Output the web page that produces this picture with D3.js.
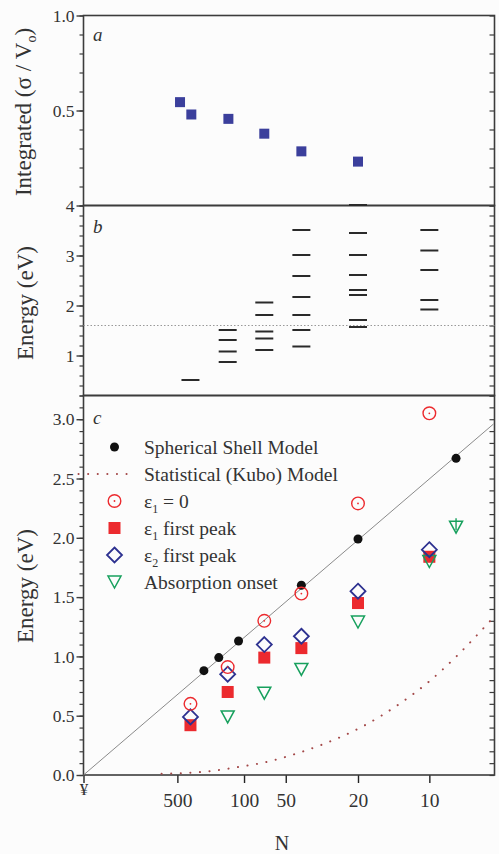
<!DOCTYPE html>
<html>
<head>
<meta charset="utf-8">
<script src="https://cdn.jsdelivr.net/npm/d3@7.9.0/dist/d3.min.js"></script>
<style>
  html, body { margin: 0; padding: 0; background: #fcfcfc; }
  svg, svg text { font-family: "Liberation Serif", "Times New Roman", "DejaVu Serif", serif; }
</style>
</head>
<body>
<div id="chart"></div>
<script>
// --- Data ---
// x axis is N^(-1/3); ticks are labelled by N
const tickN = [Infinity, 500, 100, 50, 20, 10];
const tickLabels = ["¥", "500", "100", "50", "20", "10"];

// panel a: integrated cross-section
const integN = [460, 330, 136, 70, 40, 20];
const integVal = [0.544, 0.479, 0.456, 0.378, 0.285, 0.231];

// panel b: transition energies per cluster size
const levelN = [338, 138, 70, 40, 20, 10];
const levelE = [
  [0.51],
  [1.51, 1.31, 1.08, 0.87],
  [2.06, 1.81, 1.48, 1.34, 1.11],
  [3.51, 3.01, 2.59, 2.17, 1.81, 1.51, 1.18],
  [4.01, 3.45, 3.01, 2.61, 2.31, 2.21, 1.71, 1.57],
  [3.51, 3.10, 2.71, 2.11, 1.92]
];
const thresholdE = 1.6;

// panel c
const shellN = [237, 167, 111, 40, 20, 8];
const shellE = [0.88, 0.99, 1.13, 1.60, 1.99, 2.67];
const shellLineN = [Infinity, 6];
const shellLineE = [0, 2.96];
const kuboN = [870, 220, 107, 62, 48, 30, 19, 12.9, 10, 7.9, 6.4, 6.0];
const kuboE = [0.01, 0.03, 0.07, 0.12, 0.16, 0.26, 0.41, 0.61, 0.79, 1.01, 1.25, 1.33];
const peakN = [338, 138, 70, 40, 20, 10];
const eps0E = [0.60, 0.91, 1.30, 1.53, 2.29, 3.05];
const eps1E = [0.42, 0.70, 0.99, 1.07, 1.45, 1.84];
const eps2E = [0.49, 0.85, 1.10, 1.17, 1.55, 1.90];
const absN = [138, 70, 40, 20, 10, 8];
const absE = [0.49, 0.69, 0.89, 1.29, 1.80, 2.09];

// --- Layout ---
const W = 499, H = 854;
const L = 83.5, R = 494.5;
const RED = "#ec2a2e", BLUE = "#2d3190", GREEN = "#17a05d", NAVY = "#3b3f9c";
const FRAME = "#3c3c3c";
const KUBO = "#a34848";
const SERIF = "'Liberation Serif', 'Times New Roman', 'DejaVu Serif', serif";

const t = n => Math.pow(n, -1 / 3);
const x = d3.scaleLinear().domain([0, 0.5516]).range([L, R]);
const xN = n => x(t(n));

const yA = d3.scaleLinear().domain([0, 1]).range([205.5, 15.5]);
const yB = d3.scaleLinear().domain([0.2, 4]).range([395.5, 205.5]);
const yC = d3.scaleLinear().domain([0, 3.2]).range([775, 395.5]);

const svg = d3.select("#chart").append("svg").attr("width", W).attr("height", H)
  .attr("font-family", SERIF);

// vertical side axes (left outward with labels, right inward)
function sideAxes(y, major, minor, fmt) {
  const [lo, hi] = y.domain();
  const minorTicks = d3.range(Math.ceil(lo / minor - 1e-9) * minor, hi + 1e-9, minor)
    .filter(v => v >= lo - 1e-9);
  const g = svg.append("g");
  g.append("g").attr("transform", `translate(${L},0)`)
    .call(d3.axisLeft(y).tickValues(minorTicks).tickSize(4).tickFormat(""))
    .call(s => s.select(".domain").remove())
    .call(s => s.selectAll("line").attr("stroke", FRAME).attr("stroke-width", 1.2));
  g.append("g").attr("transform", `translate(${L},0)`)
    .call(d3.axisLeft(y).tickValues(major).tickSize(7).tickPadding(2).tickFormat(fmt))
    .attr("font-family", SERIF)
    .call(s => s.select(".domain").remove())
    .call(s => s.selectAll("line").attr("stroke", FRAME).attr("stroke-width", 1.4))
    .call(s => s.selectAll("text").attr("font-size", 17.5).attr("fill", "#333"));
  g.append("g").attr("transform", `translate(${R},0)`)
    .call(d3.axisLeft(y).tickValues(minorTicks).tickSize(5).tickFormat(""))
    .call(s => s.select(".domain").remove())
    .call(s => s.selectAll("line").attr("stroke", FRAME).attr("stroke-width", 1.2));
}

sideAxes(yA, [0.5, 1.0], 0.1, d3.format(".1f"));
sideAxes(yB, [1, 2, 3, 4], 0.2, d3.format("d"));
sideAxes(yC, [0, 0.5, 1, 1.5, 2, 2.5, 3], 0.1, d3.format(".1f"));

// bottom axis
const xAxis = svg.append("g").attr("transform", `translate(0,${yC(0)})`)
  .call(d3.axisBottom(x).tickValues(tickN.map(t)).tickSize(8).tickPadding(10)
    .tickFormat((d, i) => tickLabels[i]))
  .attr("font-family", SERIF)
  .call(s => s.select(".domain").remove())
  .call(s => s.selectAll("line").attr("stroke", "#222").attr("stroke-width", 1.4))
  .call(s => s.selectAll("text").attr("font-size", 19.5).attr("fill", "#333"));
xAxis.selectAll("text").filter((d, i) => i === 0).attr("font-size", 17).attr("dy", "0.1em");

svg.append("text").attr("x", 282).attr("y", 850).attr("text-anchor", "middle")
  .attr("font-size", 20).attr("fill", "#333").text("N");

// frames
[yA, yB, yC].forEach(y => {
  const [bot, top] = y.range();
  svg.append("rect").attr("x", L).attr("y", top).attr("width", R - L).attr("height", bot - top)
    .attr("fill", "none").attr("stroke", FRAME).attr("stroke-width", 1.6);
});

// y labels
function yLabel(cx, cy, build) {
  const tx = svg.append("text").attr("transform", `translate(${cx},${cy}) rotate(-90)`)
    .attr("text-anchor", "middle").attr("font-size", 23).attr("fill", "#333");
  build(tx);
}
yLabel(31, 112, tx => {
  tx.append("tspan").text("Integrated (σ / V");
  tx.append("tspan").attr("font-size", 14).attr("dy", 5).text("o");
  tx.append("tspan").attr("dy", -5).text(")");
});
yLabel(33, 303, tx => tx.text("Energy (eV)"));
yLabel(33, 586, tx => tx.text("Energy (eV)"));

// panel letters
[["a", 35], ["b", 227], ["c", 418]].forEach(([s, yy]) => {
  svg.append("text").attr("x", 93).attr("y", yy + 6).attr("font-size", 19)
    .attr("font-style", "italic").attr("fill", "#333").text(s);
});

// --- panel a ---
svg.append("g").selectAll("rect").data(integN).join("rect")
  .attr("x", d => xN(d) - 5).attr("y", (d, i) => yA(integVal[i]) - 5)
  .attr("width", 10).attr("height", 10).attr("fill", NAVY);

// --- panel b ---
svg.append("line").attr("x1", L).attr("x2", R)
  .attr("y1", yB(thresholdE)).attr("y2", yB(thresholdE))
  .attr("stroke", "#999").attr("stroke-width", 1).attr("stroke-dasharray", "1.5,2");
const lev = [];
levelN.forEach((n, i) => levelE[i].forEach(e => lev.push({ n, e })));
svg.append("g").selectAll("line").data(lev).join("line")
  .attr("x1", d => xN(d.n) - 9).attr("x2", d => xN(d.n) + 9)
  .attr("y1", d => yB(d.e)).attr("y2", d => yB(d.e))
  .attr("stroke", "#2a2a2a").attr("stroke-width", 2);

// --- panel c ---
const gc = svg.append("g");
gc.append("path")
  .datum(shellLineN.map((n, i) => [n, shellLineE[i]]))
  .attr("d", d3.line().x(d => xN(d[0])).y(d => yC(d[1])))
  .attr("stroke", "#8a8a8a").attr("stroke-width", 1).attr("fill", "none");
gc.append("path")
  .datum(kuboN.map((n, i) => [n, kuboE[i]]))
  .attr("d", d3.line().x(d => xN(d[0])).y(d => yC(d[1])).curve(d3.curveMonotoneX))
  .attr("stroke", KUBO).attr("stroke-width", 2).attr("fill", "none")
  .attr("stroke-linecap", "round").attr("stroke-dasharray", "0.1,9.5");

function circleDot(g, cx, cy) {
  g.append("circle").attr("cx", cx).attr("cy", cy).attr("r", 6.3)
    .attr("fill", "none").attr("stroke", RED).attr("stroke-width", 1.4);
  g.append("circle").attr("cx", cx).attr("cy", cy).attr("r", 0.9).attr("fill", RED);
}
function square(g, cx, cy) {
  g.append("rect").attr("x", cx - 6).attr("y", cy - 6).attr("width", 12).attr("height", 12).attr("fill", RED);
}
function diamond(g, cx, cy) {
  g.append("path").attr("d", `M${cx},${cy - 7.5}L${cx + 7.5},${cy}L${cx},${cy + 7.5}L${cx - 7.5},${cy}Z`)
    .attr("fill", "none").attr("stroke", BLUE).attr("stroke-width", 1.8);
}
function triangle(g, cx, cy) {
  g.append("path").attr("d", `M${cx - 6.5},${cy - 6}L${cx + 6.5},${cy - 6}L${cx},${cy + 6}Z`)
    .attr("fill", "none").attr("stroke", GREEN).attr("stroke-width", 1.5);
}
function dot(g, cx, cy) {
  g.append("circle").attr("cx", cx).attr("cy", cy).attr("r", 4.5).attr("fill", "#111");
}

const gm = svg.append("g");
peakN.forEach((n, i) => square(gm, xN(n), yC(eps1E[i])));
absN.forEach((n, i) => triangle(gm, xN(n), yC(absE[i])));
peakN.forEach((n, i) => diamond(gm, xN(n), yC(eps2E[i])));
shellN.forEach((n, i) => dot(gm, xN(n), yC(shellE[i])));
peakN.forEach((n, i) => circleDot(gm, xN(n), yC(eps0E[i])));
// error bar on the smallest absorption onset
const lastA = absN.length - 1;
gm.append("line").attr("x1", xN(absN[lastA])).attr("x2", xN(absN[lastA]))
  .attr("y1", yC(absE[lastA]) - 9).attr("y2", yC(absE[lastA]) + 3)
  .attr("stroke", GREEN).attr("stroke-width", 1.4);

// legend
const legendItems = [
  { draw: (g, cx, cy) => dot(g, cx, cy), label: ["Spherical Shell Model"] },
  { draw: (g, cx, cy) => g.append("line").attr("x1", cx - 36).attr("x2", cx + 14).attr("y1", cy).attr("y2", cy)
      .attr("stroke", KUBO).attr("stroke-width", 2).attr("stroke-linecap", "round")
      .attr("stroke-dasharray", "0.1,9.5"),
    label: ["Statistical (Kubo) Model"] },
  { draw: circleDot, label: ["ε", "1", " = 0"] },
  { draw: square, label: ["ε", "1", " first peak"] },
  { draw: diamond, label: ["ε", "2", " first peak"] },
  { draw: triangle, label: ["Absorption onset"] }
];
const lg = svg.append("g");
legendItems.forEach((it, i) => {
  const cy = 447 + i * 27;
  it.draw(lg, 114.5, cy);
  const tx = lg.append("text").attr("x", 144).attr("y", cy + 6.5).attr("font-size", 19.5).attr("fill", "#333");
  if (it.label.length === 1) tx.text(it.label[0]);
  else {
    tx.append("tspan").text(it.label[0]);
    tx.append("tspan").attr("font-size", 12).attr("dy", 5).text(it.label[1]);
    tx.append("tspan").attr("dy", -5).text(it.label[2]);
  }
});
</script>
</body>
</html>
